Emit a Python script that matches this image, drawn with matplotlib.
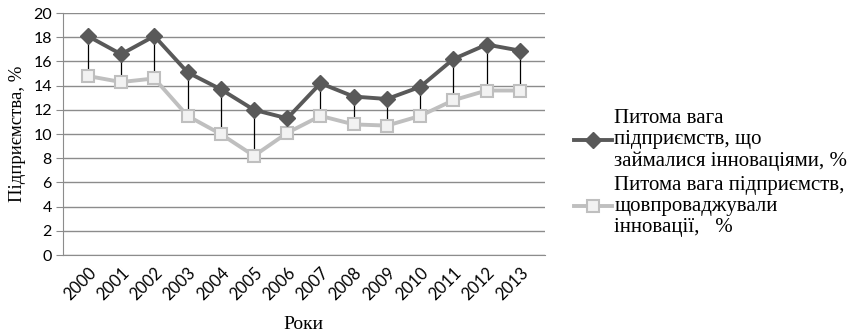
import matplotlib.pyplot as plt

# Share of enterprises by year, %
years = ['2000', '2001', '2002', '2003', '2004', '2005', '2006',
         '2007', '2008', '2009', '2010', '2011', '2012', '2013']
engaged = [18.1, 16.6, 18.1, 15.1, 13.7, 12.0, 11.3, 14.2, 13.1, 12.9, 13.9, 16.2, 17.4, 16.9]
implemented = [14.8, 14.3, 14.6, 11.5, 10.0, 8.2, 10.1, 11.5, 10.8, 10.7, 11.5, 12.8, 13.6, 13.6]

label_engaged = 'Питома вага\nпідприємств, що\nзаймалися інноваціями, %'
label_implemented = 'Питома вага підприємств,\nщовпроваджували\nінновації,   %'

serif = ['Liberation Serif', 'DejaVu Serif']
tick_font = ['Lato', 'DejaVu Sans']

fig = plt.figure(figsize=(8.65, 3.36), dpi=100)
ax = fig.add_axes([0.0728, 0.241, 0.557, 0.72])

x = list(range(len(years)))

# high-low lines between the two series
ax.vlines(x, implemented, engaged, colors='black', linewidth=0.9, zorder=2)

ax.plot(x, engaged, color='#595959', linewidth=2.8, marker='D', markersize=8,
        markerfacecolor='#595959', markeredgecolor='#595959', zorder=4,
        label=label_engaged)
ax.plot(x, implemented, color='#BFBFBF', linewidth=2.8, marker='s', markersize=9,
        markerfacecolor='#F2F2F2', markeredgecolor='#BFBFBF', markeredgewidth=1.5,
        zorder=3, label=label_implemented)

ax.set_xlim(-0.75, len(years) - 0.25)
ax.set_ylim(0, 20)
ax.set_yticks(range(0, 21, 2))
ax.set_xticks(x)
ax.set_xticklabels(years, rotation=45, ha='right', rotation_mode='anchor',
                   family=tick_font, fontsize=12)
for lbl in ax.get_yticklabels():
    lbl.set_family(tick_font)
    lbl.set_fontsize(11.5)

ax.grid(axis='y', color='#8C8C8C', linewidth=1)
ax.set_axisbelow(True)
for side in ['top', 'right']:
    ax.spines[side].set_visible(False)
ax.spines['left'].set_color('#8C8C8C')
ax.spines['bottom'].set_color('#8C8C8C')
ax.tick_params(axis='y', length=5, color='#8C8C8C', pad=3)
ax.tick_params(axis='x', length=0, pad=7)

ax.set_xlabel('Роки', family=serif, fontsize=14, labelpad=9)
ax.set_ylabel('Підприємства, %', family=serif, fontsize=13.5, labelpad=5)

leg = fig.legend(loc='center left', bbox_to_anchor=(0.652, 0.485), frameon=False,
                 prop={'family': serif, 'size': 15}, handlelength=1.8,
                 handletextpad=0.12, labelspacing=0.25, borderpad=0)
for t in leg.get_texts():
    t.set_linespacing(1.15)

fig.savefig('out.png', dpi=100)
